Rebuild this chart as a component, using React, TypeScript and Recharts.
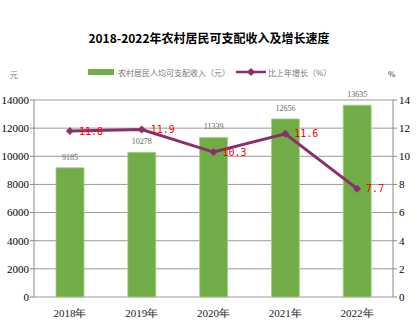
import React from 'react';
import { ComposedChart, Bar, Line, XAxis, YAxis, CartesianGrid, LabelList } from 'recharts';

const years = ['2018年', '2019年', '2020年', '2021年', '2022年'];
const income = [9185, 10278, 11339, 12656, 13635];
const growth = [11.8, 11.9, 10.3, 11.6, 7.7];
const leftTicks = [0, 2000, 4000, 6000, 8000, 10000, 12000, 14000];
const rightTicks = [0, 2, 4, 6, 8, 10, 12, 14];
const boundaryTicks = [0, 1, 2, 3, 4, 5];

const data = years.map((y, i) => ({ year: y, income: income[i], growth: growth[i], pos: i + 0.5 }));

const GREEN = '#70ad47';
const PURPLE = '#8b2f6b';
const SERIF = '"Liberation Serif", "DejaVu Serif", serif';

const Diamond = (props: any) => {
  const { cx, cy } = props;
  if (cx == null || cy == null) return null;
  const r = 4;
  return <path d={`M${cx - r},${cy} L${cx},${cy - r} L${cx + r},${cy} L${cx},${cy + r} Z`} fill={PURPLE} />;
};

export default function App() {
  return (
    <div style={{ position: 'absolute', left: 0, top: 0, width: 418, height: 329, background: '#fff' }}>
      <div style={{ position: 'absolute', left: 0, top: 30, width: 418, textAlign: 'center', fontFamily: '"Noto Sans CJK SC", sans-serif', fontWeight: 700, fontSize: 12, color: '#000', lineHeight: '16px' }}>
        2018-2022年农村居民可支配收入及增长速度
      </div>
      <div style={{ position: 'absolute', left: 88, top: 65, height: 14, display: 'flex', alignItems: 'center', fontFamily: '"Noto Sans CJK SC", sans-serif', fontSize: 8, color: '#777' }}>
        <div style={{ width: 26, height: 6, background: GREEN, marginRight: 4 }} />
        <span>农村居民人均可支配收入（元）</span>
        <svg width={30} height={10} style={{ marginLeft: 6, marginRight: 2 }}>
          <line x1={0} y1={5} x2={30} y2={5} stroke={PURPLE} strokeWidth={2.5} />
          <path d="M15,1 L19,5 L15,9 L11,5 Z" fill={PURPLE} />
        </svg>
        <span>比上年增长（%）</span>
      </div>
      <div style={{ position: 'absolute', left: 10, top: 69, fontFamily: '"Noto Sans CJK SC", sans-serif', fontSize: 8, color: '#777' }}>元</div>
      <div style={{ position: 'absolute', left: 388, top: 69, fontFamily: SERIF, fontSize: 9, color: '#333' }}>%</div>
      <ComposedChart width={418} height={329} data={data} margin={{ top: 100, right: 0, bottom: 12, left: 0 }} style={{ position: 'absolute', left: 0, top: 0 }}>
        <CartesianGrid vertical={false} stroke="#9a9a9a" strokeWidth={1} yAxisId="left" />
        <XAxis xAxisId="b" type="number" dataKey="pos" domain={[0, 5]} ticks={boundaryTicks} height={0} tick={false} tickLine={{ stroke: '#888' }} tickSize={4} axisLine={{ stroke: '#888' }} allowDataOverflow />
        <XAxis xAxisId="a" dataKey="year" height={20} tickLine={false} axisLine={false} tick={{ fontSize: 11, fill: '#222', fontFamily: SERIF }} tickMargin={6} />
        <YAxis yAxisId="left" domain={[0, 14000]} ticks={leftTicks} width={34} tick={{ fontSize: 11, fill: '#000', fontFamily: SERIF }} tickLine={{ stroke: '#888' }} tickSize={4} tickMargin={1} axisLine={{ stroke: '#888' }} interval={0} />
        <YAxis yAxisId="right" orientation="right" domain={[0, 14]} ticks={rightTicks} width={25} tick={{ fontSize: 11, fill: '#000', fontFamily: SERIF }} tickLine={{ stroke: '#888' }} tickSize={4} tickMargin={2} axisLine={{ stroke: '#888' }} interval={0} />
        <Bar xAxisId="a" yAxisId="left" dataKey="income" fill={GREEN} stroke="#a9d08e" strokeWidth={0.8} barSize={28} isAnimationActive={false}>
          <LabelList dataKey="income" position="top" offset={8} style={{ fontSize: 8, fill: '#666', fontFamily: SERIF }} />
        </Bar>
        <Line xAxisId="a" yAxisId="right" dataKey="growth" stroke={PURPLE} strokeWidth={3} dot={<Diamond />} activeDot={false} isAnimationActive={false}>
          <LabelList dataKey="growth" position="right" offset={9} style={{ fontSize: 10, fill: '#ff0000', fontFamily: '"DejaVu Sans Mono", monospace' }} />
        </Line>
      </ComposedChart>
    </div>
  );
}
